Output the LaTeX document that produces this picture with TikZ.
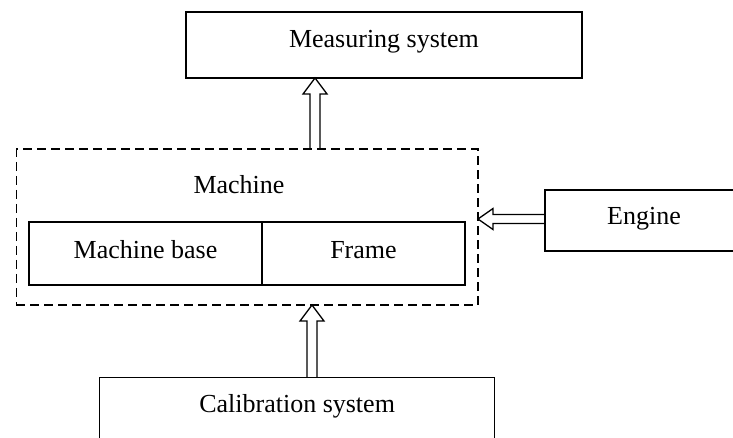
\documentclass[tikz,border=0pt]{standalone}
\usepackage{fontspec}
\setmainfont{Liberation Serif}
\usetikzlibrary{calc}
\tikzset{
  box/.style={draw, line width=1.4pt, rectangle, inner sep=0pt, outer sep=0pt},
  dashbox/.style={draw, line width=1.4pt, dash pattern=on 9pt off 5pt, rectangle, inner sep=0pt, outer sep=0pt},
  lbl/.style={font=\fontsize{26}{30}\selectfont, inner sep=0pt, anchor=base},
  blk/.style={draw, line width=1.3pt, line join=miter},
}
\newcommand{\blockup}[2]{%
  \draw[blk] let \p1=(#1), \p2=(#2) in
    (\x2-5pt,\y2) -- (\x2-5pt,\y1-16pt) -- (\x2-12pt,\y1-16pt) -- (\x1,\y1)
    -- (\x2+12pt,\y1-16pt) -- (\x2+5pt,\y1-16pt) -- (\x2+5pt,\y2);}
\newcommand{\blockleft}[2]{%
  \draw[blk] let \p1=(#1), \p2=(#2) in
    (\x2,\y1+4.5pt) -- (\x1+15pt,\y1+4.5pt) -- (\x1+15pt,\y1+10.5pt) -- (\x1,\y1)
    -- (\x1+15pt,\y1-10.5pt) -- (\x1+15pt,\y1-4.5pt) -- (\x2,\y1-4.5pt);}
\begin{document}
\begin{tikzpicture}[x=1pt,y=-1pt]
\useasboundingbox (0,0) rectangle (733,437);
\clip (0,0) rectangle (733,437);

% boxes
\node[box, minimum width=396pt, minimum height=66pt] (meas) at (384,45) {};
\node[dashbox, minimum width=461.6pt, minimum height=156pt] (machine) at (247.2,227) {};
\node[box, minimum width=233pt, minimum height=63pt] (base) at (145.5,253.5) {};
\node[box, minimum width=203pt, minimum height=63pt] (frame) at (363.5,253.5) {};
\node[box, minimum width=198pt, minimum height=61pt] (engine) at (644,220.5) {};
\node[box, minimum width=395pt, minimum height=66pt] (calib) at (297.1,410.5) {};

% texts
\node[lbl] (meastxt) at (384,47) {Measuring system};
\node[lbl] (machtxt) at (239,193.5) {Machine};
\node[lbl] (basetxt) at (145.5,258.5) {Machine base};
\node[lbl] (frametxt) at (363.5,258.5) {Frame};
\node[lbl] (enginetxt) at (644,224.5) {Engine};
\node[lbl] (calibtxt) at (297.1,412.5) {Calibration system};

% arrow axes
\coordinate (a1) at (315,0);
\coordinate (a2) at (312,0);
\coordinate (a3) at (0,219);

\blockup{meas.south -| a1}{machine.north -| a1}
\blockup{machine.south -| a2}{calib.north -| a2}
\blockleft{machine.east |- a3}{engine.west |- a3}
\end{tikzpicture}
\end{document}
